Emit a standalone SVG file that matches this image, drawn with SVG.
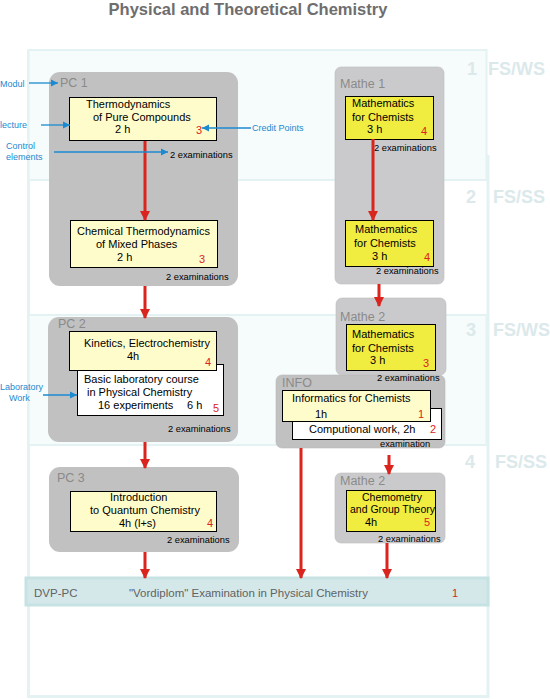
<svg xmlns="http://www.w3.org/2000/svg" width="550" height="699" viewBox="0 0 550 699">
<defs>
<marker id="ra" markerUnits="userSpaceOnUse" markerWidth="11" markerHeight="10" refX="9" refY="5" orient="auto"><path d="M0,0 L10,5 L0,10 Z" fill="#d9251d"/></marker>
<marker id="ba" markerUnits="userSpaceOnUse" markerWidth="8" markerHeight="8" refX="7" refY="4" orient="auto"><path d="M0,0.5 L7,4 L0,7.5 Z" fill="#1b8ad0"/></marker>
<style>
text{font-family:"Liberation Sans",Arial,sans-serif;}
.t{font-size:11px;fill:#000;}
.cp{font-size:11px;fill:#d9251d;}
.ex{font-size:9.3px;fill:#000;}
.mod{font-size:12.5px;fill:#8a8a8a;}
.ann{font-size:9px;fill:#1b8ad0;}
.sem{font-size:18px;font-weight:bold;fill:#dbe9eb;}
.pc{fill:#c1c1c1;}
.ma{fill:#cacacc;stroke:#bcbcbe;stroke-width:0.6;}
.ly{fill:#fffccc;stroke:#000;stroke-width:1;}
.yy{fill:#f1ec40;stroke:#000;stroke-width:1;}
.wh{fill:#fff;stroke:#000;stroke-width:1;}
.rc{stroke:#d9251d;stroke-width:3;fill:none;marker-end:url(#ra);}
.bc{stroke:#1b8ad0;stroke-width:1.3;fill:none;marker-end:url(#ba);}
</style>
</defs>
<rect width="550" height="699" fill="#fff"/>
<text x="248" y="15" text-anchor="middle" style="font-size:16.5px;font-weight:bold;fill:#6e6e6e">Physical and Theoretical Chemistry</text>

<g id="frame">
<path d="M28.5,50 V696.5 H488 V155" fill="none" stroke="#e4f2f3" stroke-width="3"/>
<rect x="28.5" y="50" width="458" height="130" fill="#f6fbfb" stroke="#e4f2f3" stroke-width="2"/>
<rect x="28.5" y="315" width="458" height="130" fill="#f6fbfb" stroke="#e4f2f3" stroke-width="2"/>
<text class="sem" x="467" y="75">1</text><text class="sem" x="488" y="75">FS/WS</text>
<text class="sem" x="466" y="203">2</text><text class="sem" x="493" y="203">FS/SS</text>
<text class="sem" x="466" y="336">3</text><text class="sem" x="493" y="336">FS/WS</text>
<text class="sem" x="465" y="468">4</text><text class="sem" x="495" y="468">FS/SS</text>
</g>

<g id="pc1">
<rect class="pc" x="49" y="72" width="189" height="214" rx="11"/>
<text class="mod" x="60" y="87">PC 1</text>
<rect class="ly" x="69.5" y="97.5" width="147" height="43"/>
<text class="t" x="86" y="108">Thermodynamics</text>
<text class="t" x="93" y="121">of Pure Compounds</text>
<text class="t" x="115" y="133">2 h</text>
<text class="cp" x="196" y="134">3</text>
<text class="ex" x="170" y="158">2 examinations</text>
<rect class="ly" x="70.5" y="220.5" width="147" height="47"/>
<text class="t" x="77" y="235">Chemical Thermodynamics</text>
<text class="t" x="96" y="248">of Mixed Phases</text>
<text class="t" x="117" y="261">2 h</text>
<text class="cp" x="199" y="263">3</text>
<text class="ex" x="166" y="280">2 examinations</text>
</g>

<g id="mathe1">
<rect class="ma" x="335" y="67" width="109" height="217" rx="6"/>
<text class="mod" x="340" y="88">Mathe 1</text>
<rect class="yy" x="345.5" y="96.5" width="88" height="43"/>
<text class="t" x="352" y="107">Mathematics</text>
<text class="t" x="352" y="121">for Chemists</text>
<text class="t" x="367" y="133">3 h</text>
<text class="cp" x="421" y="135">4</text>
<text class="ex" x="374" y="151">2 examinations</text>
<rect class="yy" x="345.5" y="220.5" width="88" height="46"/>
<text class="t" x="355" y="233">Mathematics</text>
<text class="t" x="354" y="247">for Chemists</text>
<text class="t" x="372" y="260">3  h</text>
<text class="cp" x="424" y="261">4</text>
<text class="ex" x="376" y="274">2 examinations</text>
</g>

<g id="pc2">
<rect class="pc" x="48" y="317" width="190" height="125" rx="11"/>
<text class="mod" x="58" y="328">PC 2</text>
<rect class="wh" x="77.5" y="364.5" width="146" height="51"/>
<text class="t" x="84" y="383">Basic laboratory course</text>
<text class="t" x="87" y="396">in Physical Chemistry</text>
<text class="t" x="98" y="409">16 experiments<tspan x="187">6 h</tspan></text>
<text class="cp" x="213" y="412">5</text>
<rect class="ly" x="69.5" y="331.5" width="147" height="39"/>
<text class="t" x="84" y="347">Kinetics, Electrochemistry</text>
<text class="t" x="127" y="360">4h</text>
<text class="cp" x="205" y="366">4</text>
<text class="ex" x="168" y="432">2 examinations</text>
</g>

<g id="info">
<rect class="pc" x="276" y="375" width="169" height="73" rx="6" stroke="#b8b8b8" stroke-width="0.6"/>
<text class="mod" x="282" y="387">INFO</text>
<rect class="wh" x="292.5" y="408.5" width="149" height="31"/>
<text class="t" x="309" y="433">Computional work, 2h</text>
<text class="cp" x="430" y="433">2</text>
<rect class="ly" x="282.5" y="390.5" width="148" height="31"/>
<text class="t" x="292" y="402">Informatics for Chemists</text>
<text class="t" x="315" y="418">1h</text>
<text class="cp" x="418" y="418">1</text>
<text class="ex" x="380" y="447">examination</text>
</g>

<g id="mathe2">
<rect class="ma" x="336" y="298" width="110" height="77" rx="6"/>
<text class="mod" x="340" y="321">Mathe 2</text>
<rect class="yy" x="346.5" y="324.5" width="89" height="46"/>
<text class="t" x="352" y="338">Mathematics</text>
<text class="t" x="352" y="352">for Chemists</text>
<text class="t" x="370" y="364">3 h</text>
<text class="cp" x="423" y="367">3</text>
<text class="ex" x="377" y="381">2 examinations</text>
</g>

<g id="pc3">
<rect class="pc" x="49" y="467" width="190" height="85" rx="11"/>
<text class="mod" x="57" y="482">PC 3</text>
<rect class="ly" x="70.5" y="491.5" width="146" height="40"/>
<text class="t" x="110" y="501">Introduction</text>
<text class="t" x="90" y="514">to Quantum Chemistry</text>
<text class="t" x="119" y="527">4h  (l+s)</text>
<text class="cp" x="207" y="527">4</text>
<text class="ex" x="167" y="543">2 examinations</text>
</g>

<g id="mathe2b">
<rect class="ma" x="335" y="473" width="110" height="70" rx="6"/>
<text class="mod" x="340" y="485">Mathe 2</text>
<rect class="yy" x="346.5" y="490.5" width="89" height="41"/>
<text class="t" x="362" y="501" style="font-size:10.5px">Chemometry</text>
<text class="t" x="350" y="513" style="font-size:10.5px">and Group Theory</text>
<text class="t" x="365" y="526">4h</text>
<text class="cp" x="424" y="526">5</text>
<text class="ex" x="378" y="542">2 examinations</text>
</g>

<g id="dvp">
<rect x="26" y="578" width="462" height="27" fill="#d4e8ea" stroke="#c6e2e3" stroke-width="3"/>
<text x="34" y="597" style="font-size:11.5px;fill:#626262">DVP-PC</text>
<text x="129" y="597" style="font-size:11.5px;fill:#626262">"Vordiplom" Examination in Physical Chemistry</text>
<text class="cp" x="452" y="597">1</text>
</g>

<g id="annotations">
<text class="ann" x="0" y="87">Modul</text>
<text class="ann" x="0" y="128">lecture</text>
<text class="ann" x="252" y="131">Credit Points</text>
<text class="ann" x="6" y="149">Control</text>
<text class="ann" x="6" y="160">elements</text>
<text class="ann" x="0" y="390">Laboratory</text>
<text class="ann" x="9" y="401">Work</text>
</g>

<g id="connectors">
<line class="rc" x1="145" y1="141" x2="145" y2="220"/>
<line class="rc" x1="145" y1="286" x2="145" y2="318"/>
<line class="rc" x1="145" y1="442" x2="145" y2="468"/>
<line class="rc" x1="145" y1="552" x2="145" y2="578"/>
<line class="rc" x1="373" y1="139" x2="373" y2="220"/>
<line class="rc" x1="379" y1="284" x2="379" y2="306"/>
<line class="rc" x1="301" y1="448" x2="301" y2="578"/>
<line class="rc" x1="389" y1="455" x2="389" y2="474"/>
<line class="rc" x1="387" y1="543" x2="387" y2="578"/>
<line class="bc" x1="29" y1="83" x2="58" y2="83"/>
<line class="bc" x1="41" y1="125" x2="70" y2="125"/>
<line class="bc" x1="251" y1="128" x2="202" y2="128"/>
<line class="bc" x1="54" y1="152" x2="168" y2="152"/>
<line class="bc" x1="43" y1="395" x2="77" y2="395"/>
</g>
</svg>
